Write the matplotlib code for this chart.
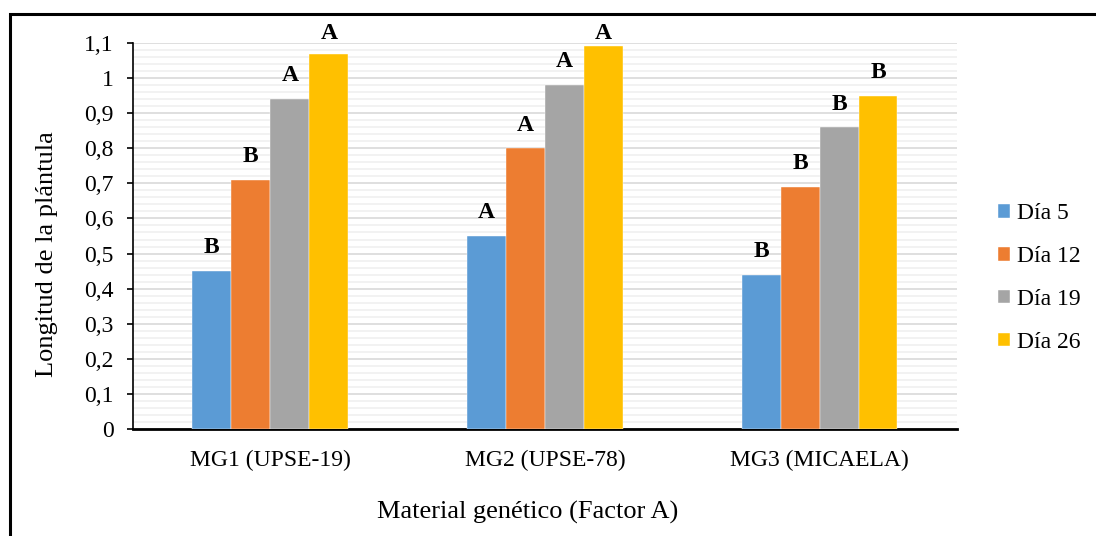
# Longitud de la plantula por material genetico

import numpy as np
import matplotlib.pyplot as plt
from matplotlib.patches import Rectangle
from matplotlib.ticker import MultipleLocator, FuncFormatter

plt.rcParams['font.family'] = ['Liberation Serif', 'DejaVu Serif']

# Data

groups = ["MG1 (UPSE-19)", "MG2 (UPSE-78)", "MG3 (MICAELA)"]
series = ["Día 5", "Día 12", "Día 19", "Día 26"]
dia5 = [0.45, 0.55, 0.44]
dia12 = [0.71, 0.80, 0.69]
dia19 = [0.94, 0.98, 0.86]
dia26 = [1.07, 1.09, 0.95]
letters5 = ["B", "A", "B"]
letters12 = ["B", "A", "B"]
letters19 = ["A", "A", "B"]
letters26 = ["A", "A", "B"]

colors = ["#5B9BD5", "#ED7D31", "#A5A5A5", "#FFC000"]

# Figure

fig = plt.figure(figsize=(10.96, 5.36), dpi=100)
ax = fig.add_axes([0.1214, 0.1996, 0.7516, 0.7202])

fig.patches.append(Rectangle((0.0091, -0.05), 1.1, 1.024, transform=fig.transFigure,
                             fill=False, edgecolor="black", linewidth=2.2, clip_on=False))

x = np.arange(len(groups))
width = 0.142
values = [dia5, dia12, dia19, dia26]
letters = [letters5, letters12, letters19, letters26]

# letters sit a fixed gap above the bar, but never above the top of the chart
gap = 0.066
top = 1.126

for i, (vals, labs) in enumerate(zip(values, letters)):
    pos = x + (i - 1.5) * width
    ax.bar(pos, vals, width=width, color=colors[i], label=series[i], zorder=3,
           edgecolor="white", linewidth=0.3)
    for p, v, l in zip(pos, vals, labs):
        ax.text(p, min(v + gap, top), l, ha="center", va="center",
                fontsize=17, fontweight="bold", clip_on=False)

ax.set_xlim(-0.5, 2.5)
ax.set_ylim(0, 1.1)
ax.yaxis.set_major_locator(MultipleLocator(0.1))
ax.yaxis.set_minor_locator(MultipleLocator(0.02))
ax.yaxis.set_major_formatter(FuncFormatter(lambda v, p: ("%g" % round(v, 2)).replace(".", ",")))

ax.grid(axis="y", which="major", color="#d9d9d9", linewidth=1.2, zorder=0)
ax.grid(axis="y", which="minor", color="#f0f0f0", linewidth=1.2, zorder=0)
ax.set_axisbelow(True)

ax.set_xticks(x)
ax.set_xticklabels(groups, fontsize=17)
ax.tick_params(axis="x", length=0, pad=15)
ax.tick_params(axis="y", which="major", labelsize=17, length=4, width=1.2, direction="out", pad=10)
ax.tick_params(axis="y", which="minor", length=0)

for s in ["top", "right"]:
    ax.spines[s].set_visible(False)
ax.spines["left"].set_linewidth(1.2)
ax.spines["bottom"].set_linewidth(2)

ax.set_ylabel("Longitud de la plántula", fontsize=19)
ax.yaxis.label.set_va("center")
ax.yaxis.set_label_coords(-0.104, 0.453)
ax.set_xlabel("Material genético (Factor A)", fontsize=19)
ax.xaxis.label.set_va("center")
ax.xaxis.set_label_coords(0.479, -0.215)

ax.legend(loc="center left", bbox_to_anchor=(1.0498, 0.391), frameon=False, fontsize=17,
          borderpad=0, borderaxespad=0,
          handlelength=0.5, handleheight=0.5, handletextpad=0.3, labelspacing=0.92)

fig.savefig("out.png", dpi=100)
